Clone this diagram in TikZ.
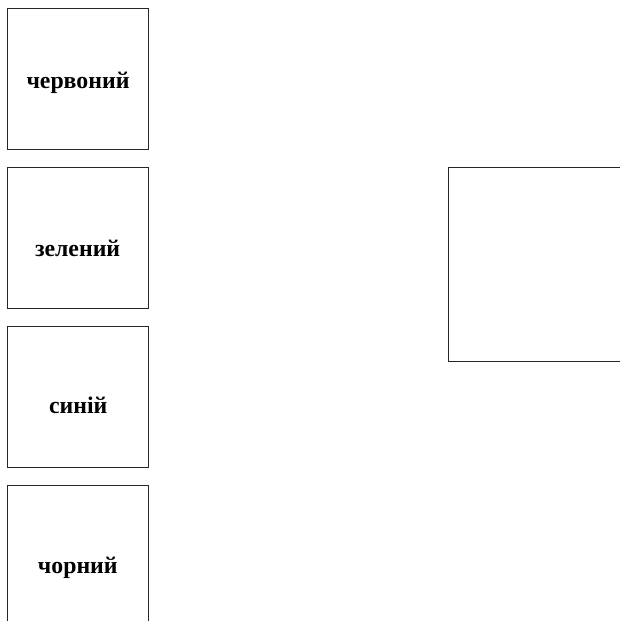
\documentclass[tikz,border=0pt]{standalone}
\usepackage{fontspec}
\setmainfont{Liberation Serif}
\begin{document}
\begin{tikzpicture}[x=1pt,y=-1pt,
  colorbox/.style={draw=black!85,line width=1.4pt,minimum width=141pt,minimum height=141pt,inner sep=0pt},
  colortext/.style={anchor=base,inner sep=0pt,font=\fontsize{23.8}{28}\selectfont\bfseries},
  target/.style={draw=black!85,line width=1.4pt}]
\useasboundingbox (0,0) rectangle (620,621);
\node[colorbox] (red) at (78,79) {};
\node[colorbox] (green) at (78,238) {};
\node[colorbox] (blue) at (78,397) {};
\node[colorbox] (black) at (78,556) {};
\node[colortext] (redt) at (78,88.3) {червоний};
\node[colortext] (greent) at (77.6,256) {зелений};
\node[colortext] (bluet) at (78.2,413.3) {синій};
\node[colortext] (blackt) at (77.8,573.3) {чорний};
\draw[target] (660,167.5) -- (448.5,167.5) -- (448.5,361.5) -- (660,361.5);
\end{tikzpicture}
\end{document}
